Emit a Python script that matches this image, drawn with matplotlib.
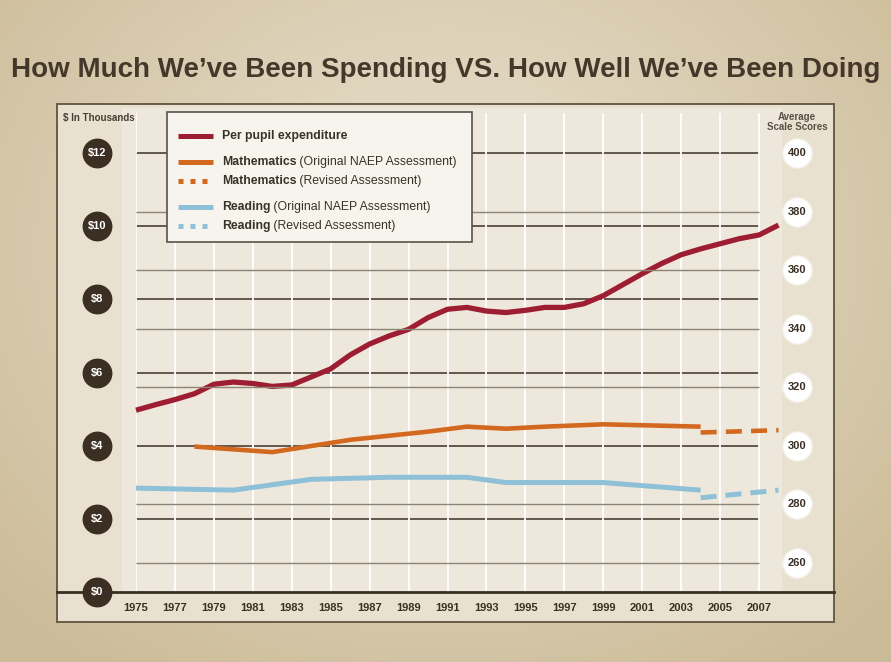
import numpy as np
import matplotlib
matplotlib.use("Agg")
import matplotlib.pyplot as plt
import matplotlib.transforms as mtransforms
from matplotlib.patches import Rectangle

plt.rcParams['font.family'] = ['Liberation Sans', 'DejaVu Sans']

# --- Data ---
spend_years = list(range(1975, 2009))
spend_values = [4.97, 5.12, 5.26, 5.42, 5.68, 5.74, 5.70, 5.62, 5.66, 5.88,
                6.10, 6.48, 6.78, 7.00, 7.18, 7.50, 7.73, 7.78, 7.68, 7.64,
                7.70, 7.78, 7.78, 7.88, 8.10, 8.40, 8.70, 8.98, 9.22, 9.38,
                9.52, 9.66, 9.76, 10.03]

math_years = [1978, 1982, 1986, 1990, 1992, 1994, 1996, 1999, 2004]
math_scores = [299.7, 297.8, 302.0, 304.8, 306.5, 305.8, 306.5, 307.3, 306.5]
math_rev_years = [2004, 2008]
math_rev_scores = [304.5, 305.3]

read_years = [1975, 1980, 1984, 1988, 1990, 1992, 1994, 1996, 1999, 2004]
read_scores = [285.5, 284.8, 288.5, 289.2, 289.2, 289.2, 287.4, 287.4, 287.4, 284.8]
read_rev_years = [2004, 2008]
read_rev_scores = [282.2, 284.8]

dollar_ticks = [0, 2, 4, 6, 8, 10, 12]
score_ticks = [260, 280, 300, 320, 340, 360, 380, 400]
year_ticks = list(range(1975, 2008, 2))

RED = "#9d1d33"
ORANGE = "#d2691f"
BLUE = "#8ec0d8"
DARK = "#3b2f24"

W, H = 891, 662
fig = plt.figure(figsize=(W / 100, H / 100), dpi=100)

# --- background (pixel coords) ---
bg = fig.add_axes([0, 0, 1, 1], zorder=0)
bg.set_xlim(0, W)
bg.set_ylim(H, 0)
bg.axis("off")
yy, xx = np.mgrid[0:H, 0:W]
r = np.sqrt(((xx - 445) / 620.0) ** 2 + ((yy - 250) / 520.0) ** 2)
r = np.clip(r, 0, 1)[..., None]
c_in = np.array([0xea, 0xe2, 0xd0]) / 255.0
c_out = np.array([0xcc, 0xbb, 0x98]) / 255.0
grad = c_in * (1 - r) + c_out * r
bg.imshow(grad, extent=(0, W, H, 0), aspect="auto")
bg.add_patch(Rectangle((57, 104), 777, 518, facecolor="#e9e1d0",
                       edgecolor="#6b5c48", lw=1.4))
bg.add_patch(Rectangle((122, 108), 660, 484, facecolor="#eee8dc", edgecolor="none"))
bg.text(446, 70, "How Much We\u2019ve Been Spending VS. How Well We\u2019ve Been Doing",
        ha="center", va="center", fontsize=20, fontweight="bold", color="#45372a")

# --- data axes ---
x0 = 136 / W
w_ax = 33 * 19.47 / W
ymax = 13.1
y_bot = (H - 592) / H
h_ax = ymax * 36.58 / H
ax = fig.add_axes([x0, y_bot, w_ax, h_ax], zorder=1)
ax.set_facecolor("none")
ax.set_xlim(1975, 2008)
ax.set_ylim(0, ymax)
for s in ax.spines.values():
    s.set_visible(False)
ax.set_xticks(year_ticks)
ax.set_xticklabels([str(y) for y in year_ticks], fontsize=8, fontweight="bold", color=DARK)
ax.set_yticks([])
ax.tick_params(axis="x", length=0, pad=8)
ax.grid(axis="x", color="white", lw=1.3)

ax2 = ax.twinx()
ax2.set_ylim(250, 250 + 12.5 * ymax)
ax2.set_yticks([])
for s in ax2.spines.values():
    s.set_visible(False)

# gridlines
ax.hlines([d for d in dollar_ticks if d > 0], 1975, 2007, color="#4a3f35", lw=1.2, zorder=1)
ax2.hlines([s for s in score_ticks if s not in (300, 400)], 1975, 2007,
           color="#8d8474", lw=1.0, zorder=1)

pix_x_data_y = mtransforms.blended_transform_factory(bg.transData, ax.transData)
pix_x_score_y = mtransforms.blended_transform_factory(bg.transData, ax2.transData)
ax.plot([57, 834], [0, 0], color="#3a2e22", lw=2.0, transform=pix_x_data_y,
        clip_on=False, zorder=3)

# series
ax.plot(spend_years, spend_values, color=RED, lw=3.8, solid_capstyle="butt",
        solid_joinstyle="round", clip_on=False, zorder=4)
ax2.plot(math_years, math_scores, color=ORANGE, lw=3.3, solid_capstyle="butt", zorder=4)
ax2.plot(math_rev_years, math_rev_scores, color=ORANGE, lw=3.3,
         linestyle=(0, (3.5, 2.0)), clip_on=False, zorder=4)
ax2.plot(read_years, read_scores, color=BLUE, lw=3.6, solid_capstyle="butt", zorder=4)
ax2.plot(read_rev_years, read_rev_scores, color=BLUE, lw=3.6,
         linestyle=(0, (3.2, 1.8)), clip_on=False, zorder=4)

# axis circles
ax.scatter([97] * len(dollar_ticks), dollar_ticks, s=420, color=DARK,
           transform=pix_x_data_y, clip_on=False, zorder=6)
for d in dollar_ticks:
    ax.text(97, d, f"${d}", transform=pix_x_data_y, ha="center", va="center",
            fontsize=8, fontweight="bold", color="white", zorder=7, clip_on=False)
ax2.scatter([797] * len(score_ticks), score_ticks, s=450, color="white",
            edgecolors="#f3efe6", transform=pix_x_score_y, clip_on=False, zorder=6)
for s in score_ticks:
    ax2.text(797, s, str(s), transform=pix_x_score_y, ha="center", va="center",
             fontsize=8, fontweight="bold", color=DARK, zorder=7, clip_on=False)

# --- overlay: headers and legend ---
top = fig.add_axes([0, 0, 1, 1], zorder=3)
top.set_xlim(0, W)
top.set_ylim(H, 0)
top.axis("off")
top.patch.set_alpha(0)
top.text(63, 118, "$ In Thousands", ha="left", va="center", fontsize=7,
         fontweight="bold", color="#4a3f35")
top.text(797, 121.5, "Average\nScale Scores", ha="center", va="center", fontsize=7,
         fontweight="bold", color="#5a5048", linespacing=1.0)

top.add_patch(Rectangle((167, 112), 305, 130, facecolor="#f7f4ee",
                        edgecolor="#5a5048", lw=1.2))
legend_rows = [
    (136, RED, "-", "Per pupil expenditure", ""),
    (162, ORANGE, "-", "Mathematics", " (Original NAEP Assessment)"),
    (181, ORANGE, ":", "Mathematics", " (Revised Assessment)"),
    (207, BLUE, "-", "Reading", " (Original NAEP Assessment)"),
    (226, BLUE, ":", "Reading", " (Revised Assessment)"),
]
for y, col, ls, bold, rest in legend_rows:
    if ls == "-":
        top.plot([178, 213], [y, y], color=col, lw=3.6, solid_capstyle="butt")
    else:
        top.plot([178, 213], [y, y], color=col, lw=3.6, linestyle=(0, (1.0, 1.4)),
                 dash_capstyle="butt")
    t = top.text(222, y, bold, ha="left", va="center", fontsize=8.8,
                 fontweight="bold", color="#3a3128")
    if rest:
        top.annotate(rest, xy=(1, 0.5), xycoords=t, ha="left", va="center",
                     fontsize=8.8, color="#3a3128")

fig.savefig("out.png", dpi=100)
